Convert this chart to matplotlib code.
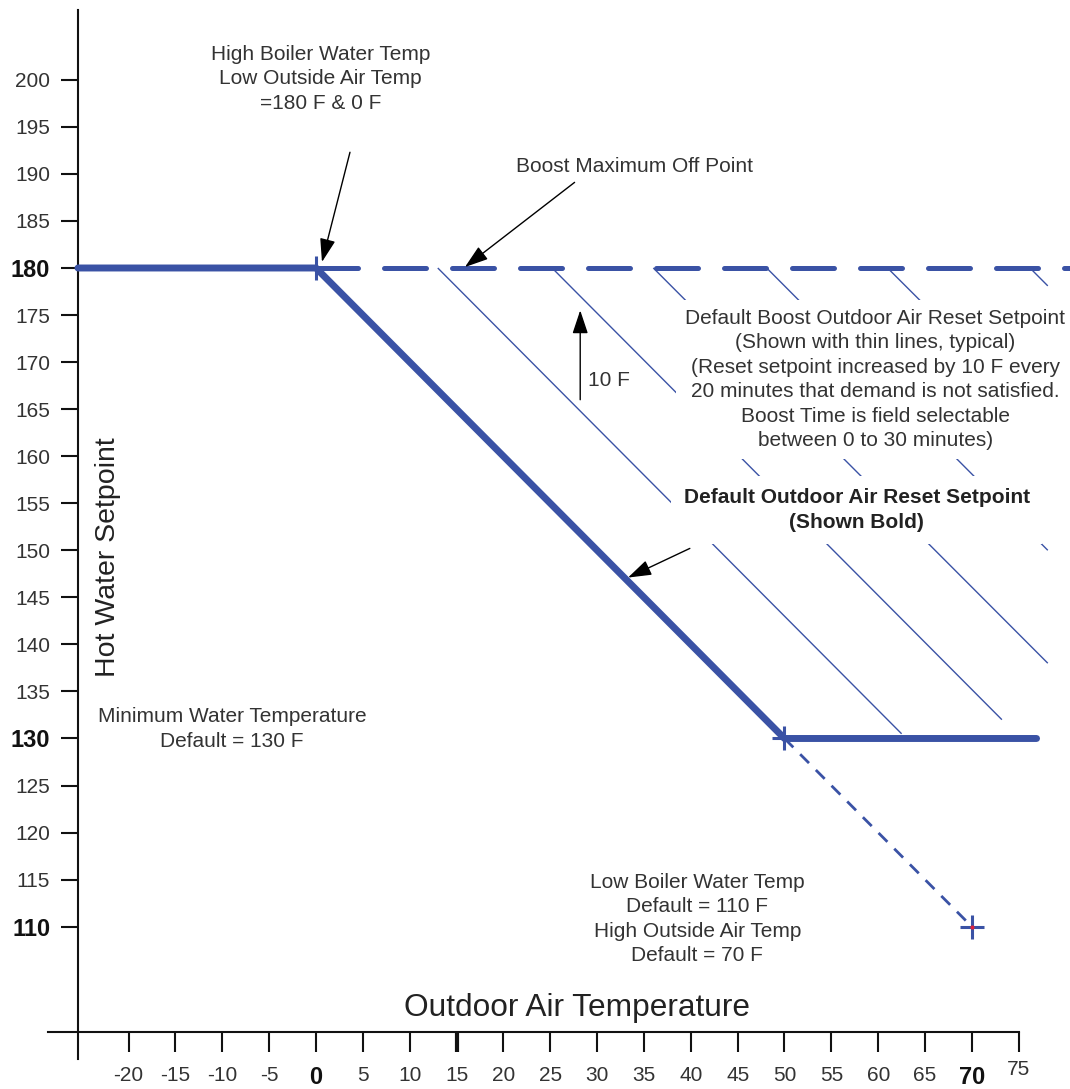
import matplotlib
matplotlib.use("Agg")
import matplotlib.pyplot as plt

plt.rcParams['font.family'] = ['Liberation Sans', 'DejaVu Sans']

# ---- data ----
reset_x = [-25.4, 0, 50, 76.9]          # default outdoor air reset (bold)
reset_y = [180, 180, 130, 130]
boost_max_x = [0, 80.6]                  # boost maximum off point (dashed)
boost_max_y = [180, 180]
ext_x = [50, 70]                         # extension to low boiler point (thin dashed)
ext_y = [130, 110]
thin_x0 = [13.0, 25.2, 36.0, 48.1, 61.0, 76.2]   # boost reset lines (thin)
thin_y0 = [180, 180, 180, 180, 180, 180]
thin_x1 = [62.5, 73.2, 78.1, 78.1, 78.1, 78.1]
thin_y1 = [130.5, 132.0, 138.0, 150.0, 163.0, 178.1]
cross_x = [0, 50, 70]
cross_y = [180, 130, 110]

xticks = list(range(-20, 80, 5))
yticks = list(range(110, 205, 5))
bold_x = [0, 70]
bold_y = [110, 130, 180]

BLUE = '#3a52a5'
TXT = '#333333'
LS = 1.36

fig = plt.figure(figsize=(10.70, 10.89), dpi=100)
ax = fig.add_axes([0, 0, 1, 1])
ax.set_xlim(-33.72, 80.47)
ax.set_ylim(92.75, 208.48)
ax.patch.set_visible(False)

# spines
for s in ['top', 'right']:
    ax.spines[s].set_visible(False)
ax.spines['left'].set_position(('data', -25.4))
ax.spines['left'].set_bounds(95.9, 207.4)
ax.spines['bottom'].set_position(('data', 98.8))
ax.spines['bottom'].set_bounds(-28.6, 75)
for s in ['left', 'bottom']:
    ax.spines[s].set_linewidth(1.5)
    ax.spines[s].set_color('#111111')

ax.set_xticks(xticks)
ax.set_xticklabels([str(v) if v != 75 else '' for v in xticks])
ax.set_yticks(yticks)
ax.set_yticklabels([str(v) for v in yticks])
ax.tick_params(axis='y', direction='out', length=12, width=1.5, pad=8,
               labelsize=15, colors='#111111', labelcolor=TXT)
ax.tick_params(axis='x', direction='out', length=14.5, width=1.5, pad=10,
               labelsize=15, colors='#111111', labelcolor=TXT)
for lab, v in zip(ax.get_xticklabels(), xticks):
    if v in bold_x:
        lab.set_fontweight('bold'); lab.set_fontsize(17); lab.set_color('#111111')
for lab, v in zip(ax.get_yticklabels(), yticks):
    if v in bold_y:
        lab.set_fontweight('bold'); lab.set_fontsize(17); lab.set_color('#111111')
for tk, v in zip(ax.xaxis.get_major_ticks(), xticks):
    if v == 15:
        tk.tick1line.set_markeredgewidth(3)
# the "75" label sits a little higher than the others
ax.text(75, 94.8, '75', ha='center', va='center', fontsize=15, color=TXT)

# lines
for x0, y0, x1, y1 in zip(thin_x0, thin_y0, thin_x1, thin_y1):
    ax.plot([x0, x1], [y0, y1], color=BLUE, lw=1.0, zorder=2, solid_capstyle='butt')
ax.plot(boost_max_x, boost_max_y, color=BLUE, lw=3.6, dashes=(8.4, 5.2),
        dash_capstyle='round', zorder=3)
ax.plot(ext_x, ext_y, color=BLUE, lw=2.0, dashes=(4.5, 3.5), zorder=3)
ax.plot(reset_x, reset_y, color=BLUE, lw=5.0, solid_capstyle='round',
        solid_joinstyle='round', zorder=4)
ax.plot(cross_x, cross_y, linestyle='none', marker='+', markersize=17,
        mew=2.2, color=BLUE, zorder=5)
ax.plot([cross_x[-1]], [cross_y[-1]], linestyle='none', marker='o',
        markersize=3, color='#e0203a', mec='none', zorder=6)

# text blocks with white background (hide thin lines)
wbox = dict(facecolor='white', edgecolor='none', boxstyle='square,pad=0.45')
ax.text(59.7, 168.15,
        "Default Boost Outdoor Air Reset Setpoint\n(Shown with thin lines, typical)\n"
        "(Reset setpoint increased by 10 F every\n20 minutes that demand is not satisfied.\n"
        "Boost Time is field selectable\nbetween 0 to 30 minutes)",
        ha='center', va='center', fontsize=15, color=TXT, linespacing=LS,
        bbox=wbox, zorder=7)
ax.text(57.7, 154.3, "Default Outdoor Air Reset Setpoint\n(Shown Bold)",
        ha='center', va='center', fontsize=15, fontweight='bold', color='#222222',
        linespacing=LS, bbox=dict(facecolor='white', edgecolor='none',
                                  boxstyle='square,pad=0.6'), zorder=7)

ax.text(0.5, 200.1, "High Boiler Water Temp\nLow Outside Air Temp\n=180 F & 0 F",
        ha='center', va='center', fontsize=15, color=TXT, linespacing=LS)
ax.text(34.0, 190.8, "Boost Maximum Off Point", ha='center', va='center',
        fontsize=15, color=TXT)
ax.text(29.0, 168.0, "10 F", ha='left', va='center', fontsize=15, color=TXT)
ax.text(-8.96, 131.0, "Minimum Water Temperature\nDefault = 130 F", ha='center',
        va='center', fontsize=15, color=TXT, linespacing=LS)
ax.text(40.7, 110.8, "Low Boiler Water Temp\nDefault = 110 F\nHigh Outside Air Temp\nDefault = 70 F",
        ha='center', va='center', fontsize=15, color=TXT, linespacing=LS)
ax.text(27.9, 101.4, "Outdoor Air Temperature", ha='center', va='center',
        fontsize=22.8, color='#222222')
ax.text(-22.2, 149.3, "Hot Water Setpoint", ha='center', va='center',
        fontsize=20.5, color='#222222', rotation=90)

# arrows
ap = dict(arrowstyle='-|>,head_length=0.9,head_width=0.3', color='black',
          lw=1.0, mutation_scale=16, shrinkA=0, shrinkB=0)
ax.annotate('', xy=(0.64, 180.64), xytext=(3.63, 192.3), arrowprops=ap, zorder=8)
ax.annotate('', xy=(15.9, 180.1), xytext=(27.6, 189.1), arrowprops=ap, zorder=8)
ax.annotate('', xy=(28.2, 175.5), xytext=(28.2, 166.0), arrowprops=ap, zorder=8)
ax.annotate('', xy=(33.3, 147.1), xytext=(39.9, 150.2), arrowprops=ap, zorder=8)

fig.savefig('out.png', dpi=100, facecolor='white')
